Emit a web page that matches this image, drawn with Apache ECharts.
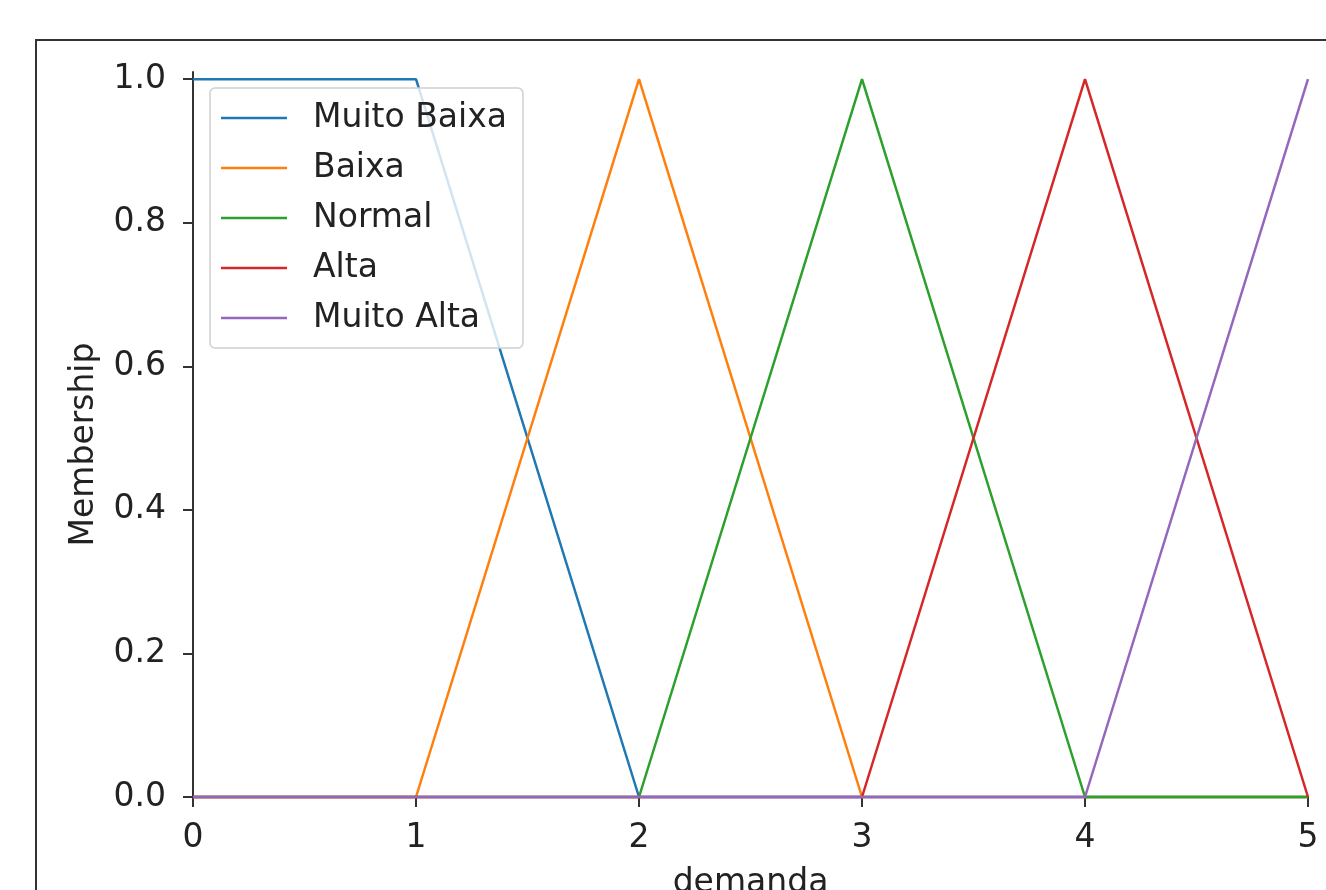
<!DOCTYPE html>
<html>
<head>
<meta charset="utf-8">
<script src="https://cdn.jsdelivr.net/npm/echarts@6/dist/echarts.min.js"></script>
<style>
html,body{margin:0;padding:0;background:#fff;}
#chart{width:1326px;height:890px;}
</style>
</head>
<body>
<div id="chart"></div>
<script>
// Data
const xValues = [0, 1, 2, 3, 4, 5];
const muitoBaixa = [1, 1, 0, 0, 0, 0];
const baixa = [0, 0, 1, 0, 0, 0];
const normal = [0, 0, 0, 1, 0, 0];
const alta = [0, 0, 0, 0, 1, 0];
const muitoAlta = [0, 0, 0, 0, 0, 1];
const seriesNames = ['Muito Baixa', 'Baixa', 'Normal', 'Alta', 'Muito Alta'];
const yTicks = [0, 0.2, 0.4, 0.6, 0.8, 1.0];
const xTicks = [0, 1, 2, 3, 4, 5];
const xLabel = 'demanda';
const yLabel = 'Membership';

const colors = ['#1f77b4', '#ff7f0e', '#2ca02c', '#d62728', '#9467bd'];
const allValues = [muitoBaixa, baixa, normal, alta, muitoAlta];
const FONT = 'DejaVu Sans';
const FS = 33;
const TXT = '#222';
const AX = '#333';
// thin horizontal line icon inside a 66x36 box (corner points only fix the box size)
const LINE_ICON = 'path://M0,0L0.01,0L0,0.01Z M0,16.75L66,16.75L66,19.25L0,19.25Z M66,36L65.99,36L66,35.99Z';

const chart = echarts.init(document.getElementById('chart'), null, {renderer: 'canvas'});
const option = {
  backgroundColor: '#fff',
  animation: false,
  textStyle: {fontFamily: FONT},
  graphic: [{
    type: 'rect',
    shape: {x: 36, y: 40, width: 2000, height: 2000},
    style: {fill: 'none', stroke: '#333', lineWidth: 2},
    z: -10
  }],
  grid: {left: 193, top: 72, width: 1115, height: 725, outerBoundsMode: 'none', containLabel: false},
  legend: {
    orient: 'vertical',
    left: 210,
    top: 88,
    padding: [12, 16, 12, 11],
    itemWidth: 66,
    itemHeight: 36,
    itemGap: 14,
    icon: LINE_ICON,
    backgroundColor: 'rgba(255,255,255,0.8)',
    borderColor: '#d0d0d0',
    borderWidth: 1.5,
    borderRadius: 5,
    textStyle: {fontFamily: FONT, fontSize: FS, color: TXT, lineHeight: 36, padding: [0, 0, 0, 21]},
    data: seriesNames,
    z: 10
  },
  xAxis: {
    type: 'value',
    min: 0, max: 5, interval: 1,
    name: xLabel,
    nameLocation: 'middle',
    nameGap: 70,
    nameTextStyle: {fontFamily: FONT, fontSize: FS, color: TXT},
    axisLine: {show: true, lineStyle: {color: AX, width: 2}},
    axisTick: {show: true, inside: false, length: 10, lineStyle: {color: AX, width: 2}, customValues: xTicks},
    axisLabel: {fontFamily: FONT, fontSize: FS, color: TXT, margin: 25, customValues: xTicks},
    splitLine: {show: false}
  },
  yAxis: {
    type: 'value',
    min: 0, max: 1.01,
    name: yLabel,
    nameLocation: 'middle',
    nameGap: 92,
    nameTextStyle: {fontFamily: FONT, fontSize: FS, color: TXT, padding: [0, 20, 0, 0]},
    axisLine: {show: true, lineStyle: {color: AX, width: 2}},
    axisTick: {show: true, inside: false, length: 10, lineStyle: {color: AX, width: 2}, customValues: yTicks},
    axisLabel: {fontFamily: FONT, fontSize: FS, color: TXT, margin: 27, customValues: yTicks,
      formatter: v => Number(v).toFixed(1)},
    splitLine: {show: false}
  },
  series: seriesNames.map((name, k) => ({
    name: name,
    type: 'line',
    data: xValues.map((x, i) => [x, allValues[k][i]]),
    symbol: 'none',
    clip: false,
    color: colors[k],
    lineStyle: {color: colors[k], width: 2.5},
    z: 2 + k
  }))
};
chart.setOption(option);
</script>
</body>
</html>
